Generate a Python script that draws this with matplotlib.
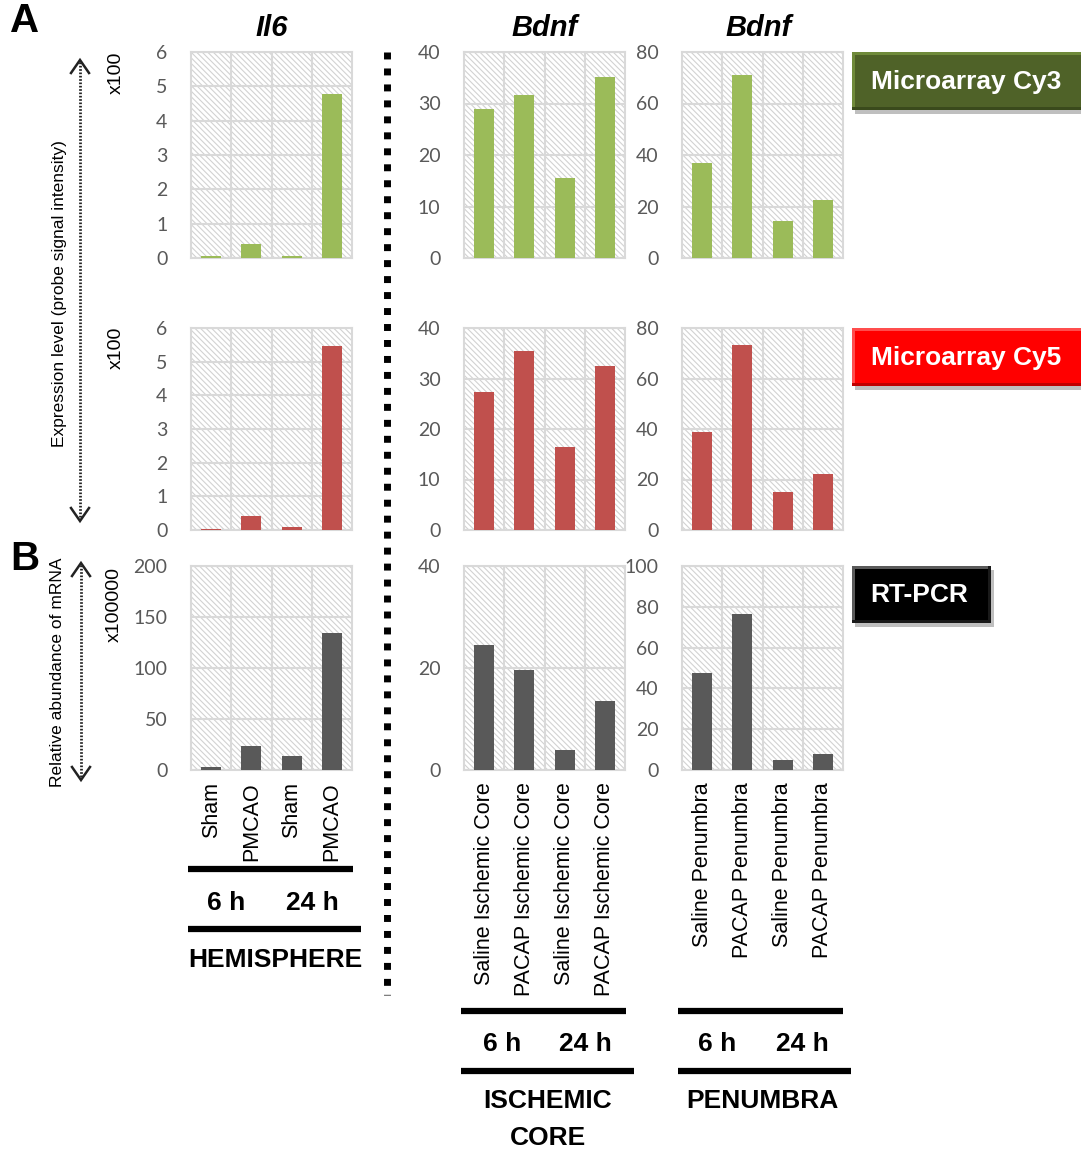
import matplotlib
matplotlib.use("Agg")
import matplotlib.pyplot as plt
from matplotlib.patches import Rectangle

plt.rcParams["hatch.linewidth"] = 0.8

NARROW = ["Liberation Sans Narrow", "Liberation Sans", "DejaVu Sans"]
TICKFONT = ["Lato", "DejaVu Sans"]

W, H = 1081, 1152

# ---- data -------------------------------------------------------------
il6_cy3 = [0.05, 0.42, 0.05, 4.78]
il6_cy5 = [0.04, 0.42, 0.10, 5.48]
il6_pcr = [3, 24, 14, 134]

core_cy3 = [28.9, 31.7, 15.5, 35.1]
core_cy5 = [27.3, 35.4, 16.4, 32.5]
core_pcr = [24.5, 19.6, 3.9, 13.5]

pen_cy3 = [37.0, 71.0, 14.3, 22.6]
pen_cy5 = [38.8, 73.3, 15.0, 22.2]
pen_pcr = [47.5, 76.5, 4.9, 7.8]

hemi_labels = ["Sham", "PMCAO", "Sham", "PMCAO"]
core_labels = ["Saline Ischemic Core", "PACAP Ischemic Core",
               "Saline Ischemic Core", "PACAP Ischemic Core"]
pen_labels = ["Saline Penumbra", "PACAP Penumbra",
              "Saline Penumbra", "PACAP Penumbra"]

il6_ticks = [0, 1, 2, 3, 4, 5, 6]
il6_pcr_ticks = [0, 50, 100, 150, 200]
core_ticks = [0, 10, 20, 30, 40]
core_pcr_ticks = [0, 20, 40]
pen_ticks = [0, 20, 40, 60, 80]
pen_pcr_ticks = [0, 20, 40, 60, 80, 100]

GREEN, RED, GREY = "#9bbb59", "#c0504d", "#595959"

fig = plt.figure(figsize=(W / 100, H / 100), dpi=100)

# full-figure overlay in pixel coordinates for annotations
ov = fig.add_axes([0, 0, 1, 1])
ov.set_xlim(0, W)
ov.set_ylim(H, 0)
ov.axis("off")

col_left = [191, 464, 682]
col_w = 161
rows = [(52, 258), (328, 530), (566, 770)]


def panel(col, row, values, ticks, color, labels=None):
    top, bot = rows[row]
    ax = fig.add_axes([col_left[col] / W, 1 - bot / H, col_w / W, (bot - top) / H])
    ax.add_patch(Rectangle((0, 0), 1, 1, transform=ax.transAxes, facecolor="white",
                           edgecolor="#d2d2d2", hatch="\\\\\\\\\\\\", lw=0, zorder=0))
    x = list(range(len(values)))
    ax.bar(x, values, width=0.5, color=color, zorder=3)
    ax.set_xlim(-0.5, len(values) - 0.5)
    ax.set_ylim(ticks[0], ticks[-1])
    ax.set_yticks(ticks)
    for t in ticks:
        ax.axhline(t, color="#d9d9d9", lw=1.5, zorder=1)
    for b in [i + 0.5 for i in x[:-1]]:
        ax.axvline(b, color="#d9d9d9", lw=1.5, zorder=1)
    for s in ax.spines.values():
        s.set_color("#d9d9d9")
        s.set_linewidth(1.5)
    ax.tick_params(axis="y", length=0, pad=17, labelcolor="#595959", labelsize=14)
    for lab in ax.get_yticklabels():
        lab.set_family(TICKFONT)
    if labels:
        ax.set_xticks(x)
        ax.set_xticklabels(labels, rotation=90, fontsize=15.5, family=NARROW, color="black")
        ax.tick_params(axis="x", length=0, pad=9)
    else:
        ax.set_xticks([])
    return ax


panel(0, 0, il6_cy3, il6_ticks, GREEN)
panel(1, 0, core_cy3, core_ticks, GREEN)
panel(2, 0, pen_cy3, pen_ticks, GREEN)
panel(0, 1, il6_cy5, il6_ticks, RED)
panel(1, 1, core_cy5, core_ticks, RED)
panel(2, 1, pen_cy5, pen_ticks, RED)
panel(0, 2, il6_pcr, il6_pcr_ticks, GREY, hemi_labels)
panel(1, 2, core_pcr, core_pcr_ticks, GREY, core_labels)
panel(2, 2, pen_pcr, pen_pcr_ticks, GREY, pen_labels)

# gene titles
for cx, name in [(272, "Il6"), (545, "Bdnf"), (759, "Bdnf")]:
    ov.text(cx, 28, name, ha="center", va="center", fontsize=21, fontweight="bold",
            fontstyle="italic", family=NARROW)

# panel letters
ov.text(25, 21, "A", ha="center", va="center", fontsize=29, fontweight="bold", family="Liberation Sans")
ov.text(25, 559, "B", ha="center", va="center", fontsize=29, fontweight="bold", family="Liberation Sans")


def dotted_arrow(x, y0, y1):
    ov.plot([x, x], [y0 + 2, y1 - 2], color="#222222", lw=2, ls=(0, (0.6, 0.6)))
    for tip, sgn in [(y0, 1), (y1, -1)]:
        ov.plot([x - 9, x, x + 9], [tip + sgn * 13, tip, tip + sgn * 13],
                color="#222222", lw=1.8, solid_joinstyle="miter")


dotted_arrow(80, 60, 521)
dotted_arrow(81, 563, 780)
ov.text(60, 294, "Expression level (probe signal intensity)", rotation=90, ha="center",
        va="center", fontsize=12.5, family=NARROW)
ov.text(58, 672, "Relative abundance of mRNA", rotation=90, ha="center", va="center",
        fontsize=12.5, family=NARROW)
ov.text(116, 73, "x100", rotation=90, ha="center", va="center", fontsize=14, family=NARROW)
ov.text(116, 348, "x100", rotation=90, ha="center", va="center", fontsize=14, family=NARROW)
ov.text(114, 605, "x100000", rotation=90, ha="center", va="center", fontsize=14, family=NARROW)

# dashed divider between Il6 and Bdnf
ov.plot([387, 387], [52, 995], color="black", lw=5, ls=(0, (1, 1.3)), dash_capstyle="butt")


def tag(x0, y0, x1, y1, text, face, light, dark):
    ov.add_patch(Rectangle((x0 + 3, y0 + 4), x1 - x0, y1 - y0, facecolor="#bfbfbf", lw=0, zorder=1))
    ov.add_patch(Rectangle((x0, y0), x1 - x0, y1 - y0, facecolor=dark, lw=0, zorder=2))
    ov.add_patch(Rectangle((x0, y0), x1 - x0 - 3, y1 - y0 - 3, facecolor=light, lw=0, zorder=3))
    ov.add_patch(Rectangle((x0 + 3, y0 + 3), x1 - x0 - 6, y1 - y0 - 6, facecolor=face, lw=0, zorder=4))
    ov.text((x0 + x1) / 2 - 2, (y0 + y1) / 2 + 1, text, ha="center", va="center", color="white",
            fontsize=19, fontweight="bold", family=NARROW, zorder=5)


tag(852, 52, 1084, 110, "Microarray Cy3", "#4f6228", "#6f8a3a", "#3a4a1c")
tag(852, 328, 1084, 386, "Microarray Cy5", "#ff0000", "#ff4d4d", "#c00000")
tag(852, 566, 991, 623, "RT-PCR", "#000000", "#5a5a5a", "#1a1a1a")


# group brackets under the bottom row
def bar_line(x0, x1, y):
    ov.plot([x0, x1], [y, y], color="black", lw=4.5, solid_capstyle="butt")


bold = dict(ha="center", va="center", fontsize=19, fontweight="bold", family=NARROW)

bar_line(188, 353, 869)
ov.text(226, 903, "6 h", **bold)
ov.text(312, 903, "24 h", **bold)
bar_line(188, 361, 929)
ov.text(275, 960, "HEMISPHERE", **bold)

bar_line(461, 626, 1011)
ov.text(502, 1044, "6 h", **bold)
ov.text(585, 1044, "24 h", **bold)
bar_line(461, 634, 1071)
ov.text(548, 1101, "ISCHEMIC", **bold)
ov.text(548, 1138, "CORE", **bold)

bar_line(678, 843, 1011)
ov.text(717, 1044, "6 h", **bold)
ov.text(802, 1044, "24 h", **bold)
bar_line(678, 851, 1071)
ov.text(762, 1101, "PENUMBRA", **bold)

fig.savefig("out.png", dpi=100)
